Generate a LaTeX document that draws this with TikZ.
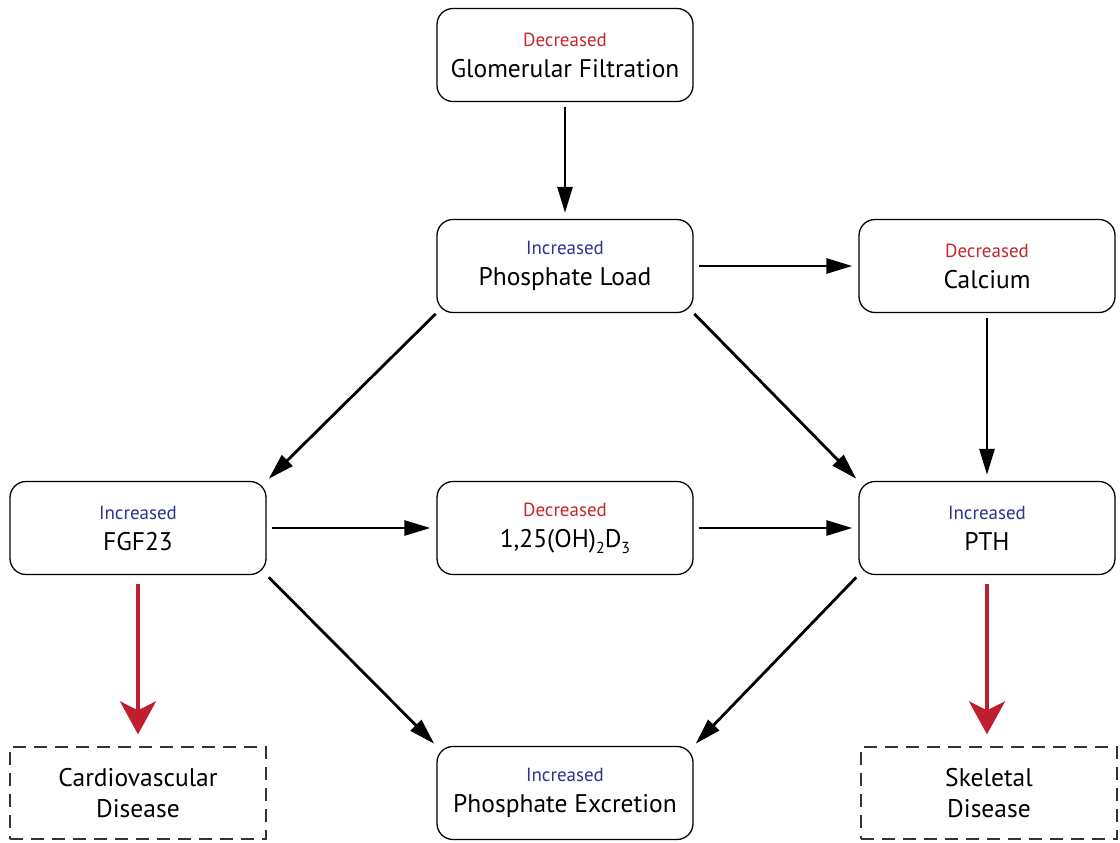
\documentclass[tikz,border=0pt]{standalone}
\usepackage{fontspec}
\setmainfont{PT Sans}
\usepackage{xcolor}
\usepackage{tikz}
\usetikzlibrary{arrows.meta, positioning}

\definecolor{decred}{RGB}{193,39,45}
\definecolor{incblue}{RGB}{46,49,146}
\definecolor{arrred}{RGB}{190,30,45}
\newcommand{\decr}{{\fontsize{19}{19}\selectfont\textcolor{decred}{Decreased}}}
\newcommand{\incr}{{\fontsize{19}{19}\selectfont\textcolor{incblue}{Increased}}}
\newcommand{\sbs}[1]{\raisebox{-6pt}{\fontsize{16}{16}\selectfont #1}}

\begin{document}
\begin{tikzpicture}[x=1pt, y=-1pt,
  box/.style={draw, line width=1.3pt, rounded corners=16pt, minimum width=256pt, minimum height=93pt, align=center, inner sep=0pt, font=\fontsize{25.5}{31}\selectfont},
  dbox/.style={draw=black!80, line width=1.3pt, dash pattern=on 13pt off 8pt, minimum width=256pt, minimum height=92pt, align=center, inner sep=0pt, font=\fontsize{25.5}{31}\selectfont},
  arr/.style={-{Triangle[length=26pt,width=15pt]}, line width=2.8pt, shorten <=5pt, shorten >=6pt},
  redarr/.style={draw=arrred, -{Stealth[length=33pt,width=36pt,inset=9pt]}, line width=3.6pt, shorten <=9pt, shorten >=12pt}]
\useasboundingbox (0,0) rectangle (1120,843);
\node[box] (gfr) at (565,55) {\decr\\Glomerular Filtration};
\node[box] (pload) at (565,266) {\incr\\Phosphate Load};
\node[box] (ca) at (987,266) {\decr\\Calcium};
\node[box] (fgf) at (138,528) {\incr\\FGF23};
\node[box] (vitd) at (565,528) {\decr\\1,25(OH)\sbs{2}D\sbs{3}};
\node[box] (pth) at (987,528) {\incr\\PTH};
\node[box] (pexc) at (565,793) {\incr\\Phosphate Excretion};
\node[dbox] (cvd) at (138,793) {Cardiovascular\\Disease};
\node[dbox] (skd) at (989,793) {Skeletal\\Disease};
\draw[arr] (gfr) -- (pload);
\draw[arr] (pload) -- (ca);
\draw[arr] (ca) -- (pth);
\draw[arr, shorten <=1pt, shorten >=3pt] (pload.south west) -- (fgf.north east);
\draw[arr, shorten <=1pt, shorten >=3pt] (pload.south east) -- (pth.north west);
\draw[arr] (fgf) -- (vitd);
\draw[arr] (vitd) -- (pth);
\draw[arr, shorten <=3pt, shorten >=3pt] (fgf.south east) -- (pexc.north west);
\draw[arr, shorten <=3pt, shorten >=3pt] (pth.south west) -- (pexc.north east);
\draw[redarr] (fgf) -- (cvd);
\draw[redarr] (pth) -- (pth |- skd.north);
    \end{tikzpicture}
\end{document}
